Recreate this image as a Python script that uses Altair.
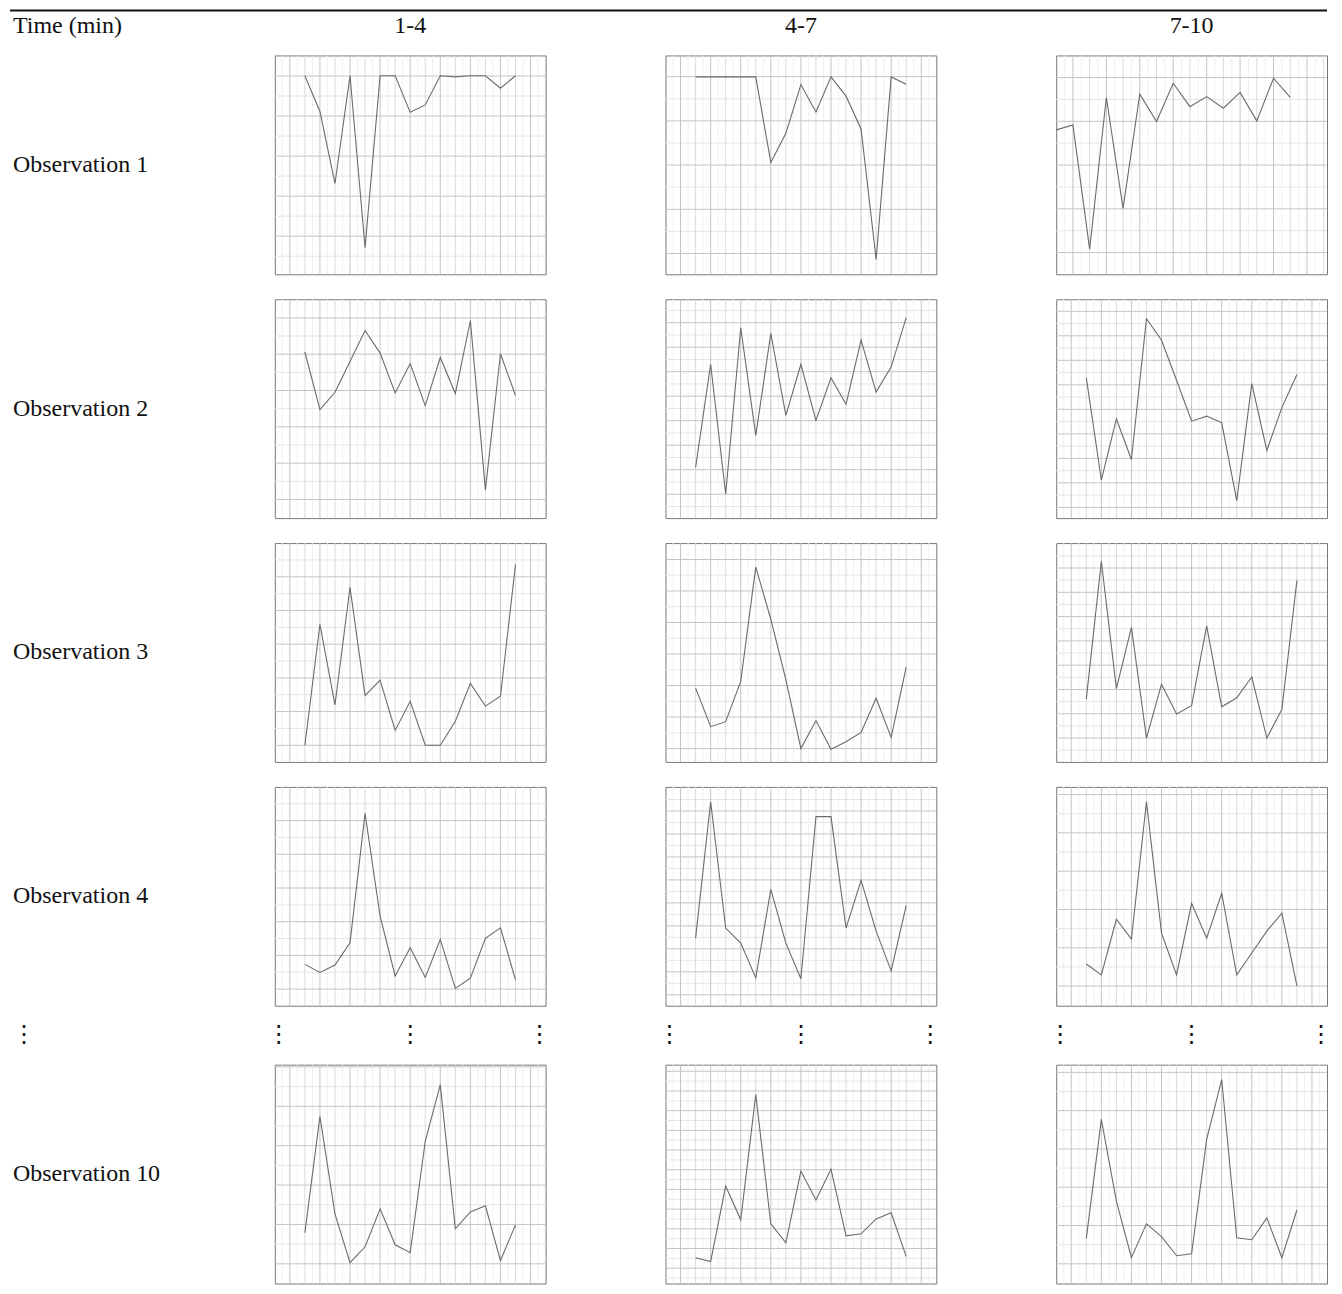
import altair as alt
import pandas as pd

CORNER_LABEL = "Time (min)"
COL_LABELS = ["1-4", "4-7", "7-10"]
ROW_LABELS = ["Observation 1", "Observation 2", "Observation 3", "Observation 4", "Observation 10"]
ELLIPSIS = "\u22ee"

# sample values, in percent of panel height (0 = bottom edge, 100 = top edge)
OBS1_1_4 = [90.7, 74.4, 41.5, 90.7, 12.2, 90.7, 90.7, 74.0, 77.4, 90.7, 90.2, 90.7, 90.7, 85.0, 90.7]
OBS1_4_7 = [90.2, 90.2, 90.2, 90.2, 90.2, 51.1, 64.4, 86.7, 74.2, 90.2, 81.4, 66.4, 6.8, 90.2, 86.8]
OBS1_7_10 = [66.0, 68.2, 11.5, 80.8, 30.1, 82.3, 69.8, 87.3, 76.6, 81.2, 75.9, 83.1, 70.1, 89.6, 80.8]
OBS2_1_4 = [75.9, 49.6, 57.5, 71.6, 85.7, 75.4, 57.2, 70.6, 51.4, 73.4, 56.9, 90.3, 12.9, 75.1, 56.0]
OBS2_4_7 = [23.2, 70.3, 11.0, 87.0, 37.8, 84.4, 46.9, 70.3, 44.6, 64.1, 52.0, 81.3, 57.6, 69.1, 91.6]
OBS2_7_10 = [64.2, 17.4, 45.3, 26.8, 91.1, 81.3, 63.0, 44.3, 46.6, 43.6, 8.0, 61.5, 30.9, 50.5, 65.6]
OBS3_1_4 = [7.6, 62.9, 26.1, 79.8, 30.3, 37.4, 14.4, 27.7, 7.6, 7.6, 18.6, 35.9, 25.5, 30.0, 90.2]
OBS3_4_7 = [33.7, 16.1, 18.4, 36.8, 89.0, 65.2, 37.6, 6.1, 18.9, 5.8, 9.2, 13.5, 29.1, 11.2, 43.3]
OBS3_7_10 = [28.7, 91.7, 33.5, 61.5, 10.9, 35.5, 21.9, 25.7, 62.2, 25.2, 29.3, 38.8, 10.9, 24.0, 82.9]
OBS4_1_4 = [18.9, 15.2, 18.6, 28.8, 87.9, 40.9, 13.6, 26.5, 12.9, 30.3, 7.9, 12.6, 30.8, 35.6, 11.8]
OBS4_4_7 = [30.9, 93.2, 35.5, 28.6, 12.7, 53.2, 28.6, 12.3, 86.4, 86.4, 35.5, 57.3, 34.1, 15.9, 45.9]
OBS4_7_10 = [19.1, 14.1, 39.5, 30.5, 93.2, 33.2, 14.1, 46.8, 30.9, 51.4, 14.1, 24.1, 34.1, 42.3, 9.1]
OBS10_1_4 = [23.2, 76.4, 31.8, 9.5, 16.8, 34.1, 17.7, 14.1, 65.0, 90.9, 25.0, 32.7, 35.5, 10.5, 26.8]
OBS10_4_7 = [11.8, 10.0, 44.5, 29.1, 86.4, 27.3, 18.6, 51.4, 38.2, 52.3, 21.8, 22.7, 29.5, 32.3, 12.3]
OBS10_7_10 = [20.5, 75.0, 37.7, 11.8, 27.3, 21.4, 12.7, 13.6, 65.9, 93.2, 20.9, 20.0, 30.0, 11.8, 33.6]

SERIES = [
    [OBS1_1_4, OBS1_4_7, OBS1_7_10],
    [OBS2_1_4, OBS2_4_7, OBS2_7_10],
    [OBS3_1_4, OBS3_4_7, OBS3_7_10],
    [OBS4_1_4, OBS4_4_7, OBS4_7_10],
    [OBS10_1_4, OBS10_4_7, OBS10_7_10],
]

# x of first sample and width of each panel, in half-grid units
X_FIRST = [[2, 2, 0], [2, 2, 2], [2, 2, 2], [2, 2, 2], [2, 2, 2]]
X_SPAN = [[18, 18, 16.2], [18, 18, 18], [18, 18, 18], [18, 18, 18], [18, 18, 18]]
# horizontal grid of each panel: lowest major line and spacing (percent)
GRID_FIRST = [[17.4, 9.5, 9.9], [8.5, 10.9, 4.9], [7.6, 6.1, 10.9], [7.6, 5.0, 9.0], [9.0, 7.0, 9.0]]
GRID_STEP = [[18.3, 20.2, 20.0], [16.6, 11.2, 11.2], [15.4, 14.4, 11.1], [15.4, 10.5, 17.5], [18.0, 9.0, 17.5]]

LABEL_W = 145
PANEL_W = 271
COL_GAP = 120
PANEL_H = 219
ROW_GAP = 25
HEADER_H = 21
DOTS_H = 9
TOTAL_W = LABEL_W + 3 * PANEL_W + 3 * COL_GAP
FONT = "Liberation Serif"
FS = 24
NOVIEW = alt.ViewBackground(stroke="transparent")


def panel(values, x_first, x_span, g_first, g_step):
    xsc = alt.Scale(domain=[0, x_span], nice=False, zero=False)
    ysc = alt.Scale(domain=[0, 100], nice=False, zero=False)
    n_int = int(x_span)
    v_major = [k for k in range(1, n_int + 1) if k % 2 == 1 and k < x_span]
    v_minor = [k for k in range(1, n_int + 1) if k % 2 == 0 and k < x_span]
    v_fine = [k + 0.5 for k in range(0, n_int + 1) if k + 0.5 < x_span]
    h_major = []
    k = 0
    while g_first + k * g_step < 99.5:
        h_major.append(g_first + k * g_step)
        k += 1
    h_minor = [g + g_step / 2 for g in [g_first - g_step] + h_major if 0.5 < g + g_step / 2 < 99.5]

    def vrules(vals, color):
        return alt.Chart(pd.DataFrame({"x": vals})).mark_rule(stroke=color, strokeWidth=1).encode(
            x=alt.X("x:Q", scale=xsc, axis=None))

    def hrules(vals, color):
        return alt.Chart(pd.DataFrame({"y": vals})).mark_rule(stroke=color, strokeWidth=1).encode(
            y=alt.Y("y:Q", scale=ysc, axis=None))

    line = alt.Chart(pd.DataFrame({"x": [x_first + i for i in range(len(values))], "y": values})).mark_line(
        color="#6b6b6b", strokeWidth=1.1).encode(
        x=alt.X("x:Q", scale=xsc, axis=None),
        y=alt.Y("y:Q", scale=ysc, axis=None))

    return alt.layer(
        vrules(v_fine, "#f0f0f0"),
        hrules(h_minor, "#e6e6e6"),
        vrules(v_minor, "#dadada"),
        vrules(v_major, "#c4c4c4"),
        hrules(h_major, "#c4c4c4"),
        line,
    ).properties(width=PANEL_W, height=PANEL_H,
                 view=alt.ViewBackground(stroke="#777777", strokeWidth=1))


def text_cell(text, width, height, x, y, align):
    return alt.Chart(pd.DataFrame({"label": [text]})).mark_text(
        align=align, baseline="middle", font=FONT, fontSize=FS, color="#111111").encode(
        x=alt.value(x), y=alt.value(y), text="label:N").properties(
        width=width, height=height, view=NOVIEW)


def dots_cell(positions, width):
    sc = alt.Scale(domain=[0, width], nice=False, zero=False)
    return alt.Chart(pd.DataFrame({"pos": positions, "label": [ELLIPSIS] * len(positions)})).mark_text(
        align="center", baseline="middle", font="DejaVu Sans", fontSize=24, color="#111111").encode(
        x=alt.X("pos:Q", scale=sc, axis=None), y=alt.value(DOTS_H / 2), text="label:N").properties(
        width=width, height=DOTS_H, view=NOVIEW)


cells = []

# header row: top rule + corner label + column headings
hdr_rule = alt.Chart(pd.DataFrame({"a": [0]})).mark_rule(color="#111111", strokeWidth=2).encode(
    x=alt.value(0), x2=alt.value(TOTAL_W), y=alt.value(1))
hdr_corner = alt.Chart(pd.DataFrame({"label": [CORNER_LABEL]})).mark_text(
    align="left", baseline="middle", font=FONT, fontSize=FS, color="#111111").encode(
    x=alt.value(3), y=alt.value(17), text="label:N")
cells.append(alt.layer(hdr_rule, hdr_corner).properties(width=LABEL_W, height=HEADER_H, view=NOVIEW))
for lab in COL_LABELS:
    cells.append(text_cell(lab, PANEL_W, HEADER_H, PANEL_W / 2, 17, "center"))

for r, lab in enumerate(ROW_LABELS):
    if r == len(ROW_LABELS) - 1:
        cells.append(dots_cell([14], LABEL_W))
        for c in range(3):
            cells.append(dots_cell([4, PANEL_W / 2, PANEL_W - 6], PANEL_W))
    cells.append(text_cell(lab, LABEL_W, PANEL_H, 3, PANEL_H / 2, "left"))
    for c in range(3):
        cells.append(panel(SERIES[r][c], X_FIRST[r][c], X_SPAN[r][c], GRID_FIRST[r][c], GRID_STEP[r][c]))

chart = alt.concat(*cells, columns=4, spacing={"row": ROW_GAP, "column": COL_GAP}, bounds="flush").resolve_scale(
    x="independent", y="independent").properties(
    padding=0, background="white").configure_view(
    stroke="transparent")

chart.save("out.html", embed_options={"renderer": "svg", "actions": False})
